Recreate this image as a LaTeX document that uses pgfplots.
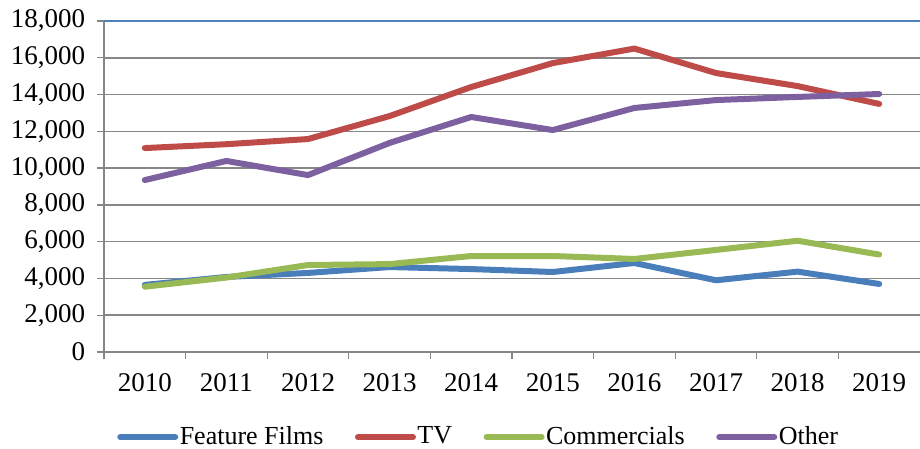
\documentclass[border=0pt]{standalone}
\usepackage{pgfplots}
\pgfplotsset{compat=1.18}
\usepackage{fontspec}
\setmainfont{Liberation Serif}
\definecolor{cFF}{HTML}{4A7EBB}
\definecolor{cTV}{HTML}{BE4B48}
\definecolor{cCO}{HTML}{98B954}
\definecolor{cOT}{HTML}{7D60A0}
\definecolor{gridc}{HTML}{878787}
\definecolor{topc}{HTML}{4F81BD}
\begin{document}
\fontsize{26}{30}\selectfont
\begin{tikzpicture}[x=1pt,y=1pt]
\path[use as bounding box] (-104,-97) rectangle (816,21+331);
\begin{axis}[
  at={(0,0)}, anchor=south west,
  scale only axis, width=816pt, height=331pt,
  xmin=0, xmax=10, ymin=0, ymax=18000,
  axis lines*=left,
  axis line style={gridc, line width=1.5pt},
  xtick={0.5,1.5,...,9.5},
  xticklabels={2010,2011,2012,2013,2014,2015,2016,2017,2018,2019},
  major x tick style={draw=none},
  minor xtick={0,1,...,9},
  minor x tick style={gridc, line width=1.3pt},
  x tick label style={yshift=-6pt},
  ytick={0,2000,...,18000},
  scaled y ticks=false,
  yticklabel style={/pgf/number format/fixed, /pgf/number format/1000 sep={,}},
  ymajorgrids,
  grid style={gridc, line width=1.5pt},
  y tick style={gridc, line width=1.3pt},
  tick align=outside,
  major tick length=7pt, minor tick length=7pt,
  y tick label style={xshift=-3pt},
  /pgf/number format/1000 sep={,},
  /pgf/number format/assume math mode=true,
  tick label style={font=\fontsize{27}{31}\selectfont},
  clip=false,
  legend columns=4,
  legend style={at={(0.016,-0.257)}, anchor=west, draw=none, fill=none,
    inner sep=0pt, font=\fontsize{26}{30}\selectfont,
    /tikz/every even column/.append style={column sep=30pt},
    nodes={inner sep=1.5pt}},
  legend image code/.code={\draw[#1, line cap=round] (0pt,0pt) -- (55pt,0pt);},
  every axis plot/.append style={line width=6pt, line join=round, line cap=round},
]
\draw[topc, line width=1.5pt] (axis cs:0,18000) -- (axis cs:10,18000);
\addplot[cFF] coordinates {(0.5,3650) (1.5,4080) (2.5,4300) (3.5,4620) (4.5,4510) (5.5,4350) (6.5,4840) (7.5,3900) (8.5,4370) (9.5,3700)};
\addlegendentry{Feature Films}
\addplot[cTV] coordinates {(0.5,11090) (1.5,11300) (2.5,11580) (3.5,12830) (4.5,14410) (5.5,15710) (6.5,16500) (7.5,15170) (8.5,14460) (9.5,13490)};
\addlegendentry{TV}
\addplot[cCO] coordinates {(0.5,3550) (1.5,4050) (2.5,4730) (3.5,4780) (4.5,5220) (5.5,5220) (6.5,5060) (7.5,5550) (8.5,6050) (9.5,5300)};
\addlegendentry{Commercials}
\addplot[cOT] coordinates {(0.5,9350) (1.5,10390) (2.5,9620) (3.5,11370) (4.5,12780) (5.5,12070) (6.5,13270) (7.5,13700) (8.5,13870) (9.5,14030)};
\addlegendentry{Other}
\end{axis}
\end{tikzpicture}
\end{document}
